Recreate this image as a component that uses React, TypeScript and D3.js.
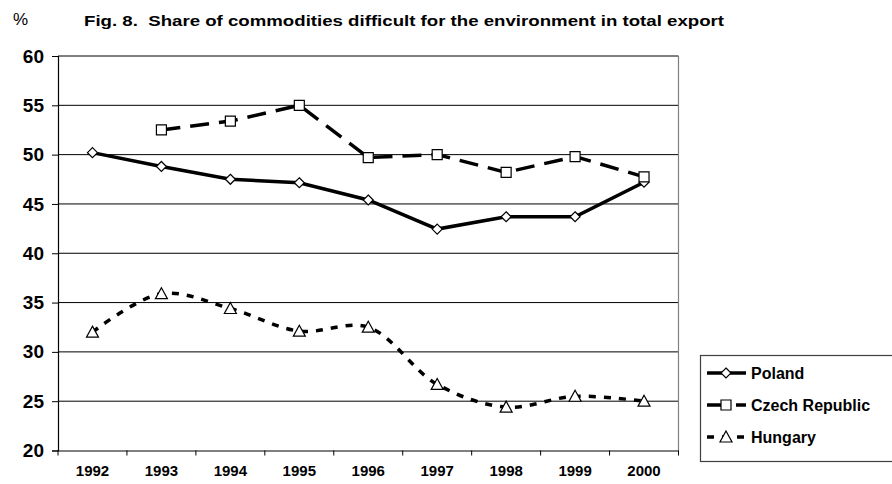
import React, { useEffect, useRef } from 'react';
import * as d3 from 'd3';

const years = ['1992', '1993', '1994', '1995', '1996', '1997', '1998', '1999', '2000'];
const poland = [50.2, 48.8, 47.5, 47.15, 45.4, 42.45, 43.7, 43.7, 47.2];
const czech = [null, 52.5, 53.4, 55.0, 49.7, 50.0, 48.2, 49.8, 47.75];
const hungary = [32.0, 35.9, 34.4, 32.1, 32.5, 26.7, 24.4, 25.5, 25.0];
const yTicks = [20, 25, 30, 35, 40, 45, 50, 55, 60];

const W = 892;
const H = 484;
const FONT = "Arial, 'Liberation Sans', sans-serif";

const App = () => {
  const ref = useRef<SVGSVGElement>(null);

  useEffect(() => {
    const svg = d3.select(ref.current);
    svg.selectAll('*').remove();

    const left = 58, right = 678.5, top = 56, bottom = 450.5;

    const x = d3.scaleBand().domain(years).range([left, right]);
    const cx = (i: number) => (x(years[i]) as number) + x.bandwidth() / 2;
    const y = d3.scaleLinear().domain([20, 60]).range([bottom, top]);

    // title
    svg.append('text')
      .attr('x', 13).attr('y', 25)
      .style('font-family', FONT).style('font-size', '17px')
      .text('%');
    svg.append('text')
      .attr('x', 84).attr('y', 26)
      .style('font-family', FONT).style('font-size', '15px').style('font-weight', 'bold')
      .style('white-space', 'pre')
      .attr('textLength', 640).attr('lengthAdjust', 'spacingAndGlyphs')
      .text('Fig. 8.\u00a0\u00a0Share of commodities difficult for the environment in total export');

    // gridlines
    svg.append('g').selectAll('line')
      .data(yTicks.filter(t => t > 20))
      .enter().append('line')
      .attr('x1', left).attr('x2', right)
      .attr('y1', d => y(d)).attr('y2', d => y(d))
      .attr('stroke', '#000').attr('stroke-width', 1);

    // right border
    svg.append('line')
      .attr('x1', right).attr('x2', right).attr('y1', top).attr('y2', bottom)
      .attr('stroke', '#808080').attr('stroke-width', 1.2);

    // y axis
    const yAxis = svg.append('g')
      .attr('transform', `translate(${left},0)`)
      .call(d3.axisLeft(y).tickValues(yTicks).tickSize(6).tickPadding(8));
    yAxis.select('.domain').attr('stroke', '#000').attr('stroke-width', 1.2);
    yAxis.selectAll('.tick line').attr('stroke', '#000');
    yAxis.selectAll('text')
      .style('font-family', FONT).style('font-size', '19px').style('font-weight', 'bold')
      .attr('fill', '#000');

    // x axis
    const xAxis = svg.append('g')
      .attr('transform', `translate(0,${bottom})`)
      .call(d3.axisBottom(x).tickSize(0).tickPadding(15));
    xAxis.select('.domain').attr('stroke', '#000').attr('stroke-width', 1.2);
    xAxis.selectAll('text')
      .style('font-family', FONT).style('font-size', '15px').style('font-weight', 'bold')
      .attr('fill', '#000');
    svg.append('g').selectAll('line')
      .data(d3.range(years.length + 1))
      .enter().append('line')
      .attr('x1', i => left + i * x.bandwidth()).attr('x2', i => left + i * x.bandwidth())
      .attr('y1', bottom).attr('y2', bottom + 5)
      .attr('stroke', '#000');

    type Pt = { i: number; v: number };
    const toPts = (arr: (number | null)[]) =>
      arr.map((v, i) => ({ i, v })).filter(p => p.v !== null) as Pt[];

    const series = [
      { name: 'Poland', data: poland, dash: null, curve: d3.curveLinear, marker: 'diamond' },
      { name: 'Czech Republic', data: czech, dash: '19,10', curve: d3.curveLinear, marker: 'square' },
      { name: 'Hungary', data: hungary, dash: '7,8', curve: d3.curveCatmullRom, marker: 'triangle' },
    ];

    const symbolPath = (m: string) => {
      if (m === 'diamond') return 'M0,-5L5,0L0,5L-5,0Z';
      if (m === 'square') return 'M-5,-5H5V5H-5Z';
      return 'M0,-6L6,5H-6Z';
    };

    series.forEach(s => {
      const pts = toPts(s.data);
      const line = d3.line<Pt>().x(p => cx(p.i)).y(p => y(p.v)).curve(s.curve);
      svg.append('path')
        .attr('d', line(pts))
        .attr('fill', 'none').attr('stroke', '#000').attr('stroke-width', 3.5)
        .attr('stroke-dasharray', s.dash);
    });

    series.forEach(s => {
      const pts = toPts(s.data);
      svg.append('g').selectAll('path')
        .data(pts).enter().append('path')
        .attr('d', symbolPath(s.marker))
        .attr('transform', p => `translate(${cx(p.i)},${y(p.v)})`)
        .attr('fill', '#fff').attr('stroke', '#000').attr('stroke-width', 1.2);
    });

    // legend
    const lg = svg.append('g');
    lg.append('rect')
      .attr('x', 700.5).attr('y', 355.5).attr('width', 200).attr('height', 106)
      .attr('fill', '#fff').attr('stroke', '#404040').attr('stroke-width', 1.2);
    const legendY = [373, 405, 437];
    series.forEach((s, k) => {
      const gy = legendY[k];
      lg.append('line')
        .attr('x1', 707).attr('x2', 746).attr('y1', gy).attr('y2', gy)
        .attr('stroke', '#000').attr('stroke-width', 3.5)
        .attr('stroke-dasharray', s.dash);
      lg.append('path')
        .attr('d', symbolPath(s.marker))
        .attr('transform', `translate(726,${gy})`)
        .attr('fill', '#fff').attr('stroke', '#000').attr('stroke-width', 1.2);
      lg.append('text')
        .attr('x', 751).attr('y', gy + 6)
        .style('font-family', FONT).style('font-size', '16px').style('font-weight', 'bold')
        .text(s.name);
    });
  }, []);

  return (
    <svg ref={ref} width={W} height={H}
      style={{ position: 'absolute', left: 0, top: 0, background: '#fff' }} />
  );
};

export default App;
